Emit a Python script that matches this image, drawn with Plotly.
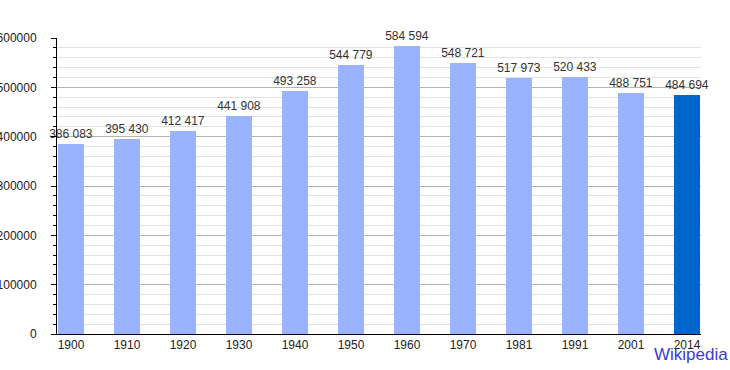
import plotly.graph_objects as go

years = ["1900", "1910", "1920", "1930", "1940", "1950", "1960", "1970", "1981", "1991", "2001", "2014"]
population = [386083, 395430, 412417, 441908, 493258, 544779, 584594, 548721, 517973, 520433, 488751, 484694]
labels = ["386 083", "395 430", "412 417", "441 908", "493 258", "544 779", "584 594",
          "548 721", "517 973", "520 433", "488 751", "484 694"]
light = "#99b3ff"
dark = "#0066cc"
colors = [light] * (len(years) - 1) + [dark]
positions = list(range(len(years)))

fig = go.Figure()
fig.add_trace(go.Bar(
    x=positions, y=population, width=0.45,
    marker=dict(color=colors, line=dict(width=0)),
    text=labels, textposition="outside", cliponaxis=False, constraintext="none",
    textfont=dict(family="Liberation Sans, Arial", size=12, color="#333333"),
    hoverinfo="skip",
))

fig.update_layout(
    width=730, height=370,
    margin=dict(l=57, r=29, t=38, b=36, autoexpand=False),
    paper_bgcolor="white", plot_bgcolor="white",
    showlegend=False,
    font=dict(family="Liberation Sans, Arial", size=12, color="#222222"),
    bargap=0,
)
fig.update_xaxes(
    range=[-0.25, 11.25], tickmode="array", tickvals=positions, ticktext=years,
    showgrid=False, zeroline=False, showline=True, linecolor="black", linewidth=1,
    ticks="", tickfont=dict(size=12, color="#222222"), automargin=False,
)
fig.update_yaxes(
    range=[0, 600000], tick0=0, dtick=100000, tickformat="d",
    showgrid=True, gridcolor="#b4b4b4", gridwidth=1,
    zeroline=False, showline=True, linecolor="black", linewidth=1,
    ticks="outside", ticklen=5, tickcolor="black", ticklabelstandoff=12,
    minor=dict(dtick=20000, showgrid=True, gridcolor="#e2e2e2", gridwidth=1,
               ticks="outside", ticklen=3, tickcolor="black"),
    tickfont=dict(size=12, color="#222222"), automargin=False,
)
fig.add_annotation(
    text="Wikipedia", xref="paper", yref="paper", x=1.0, y=-0.03,
    xanchor="left", yanchor="top", xshift=-49, showarrow=False,
    font=dict(family="Liberation Sans, Arial", size=17, color="#3a3ad6"),
)
fig.write_html("out.html")
